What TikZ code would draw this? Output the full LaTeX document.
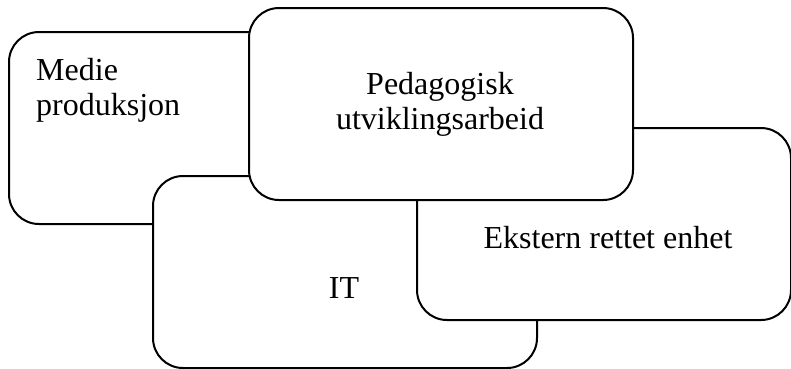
\documentclass[tikz,border=0pt]{standalone}
\usepackage{fontspec}
\setmainfont{Liberation Serif}
\tikzset{
	unitbox/.style={draw=black, line width=2pt, fill=white, rounded corners=30pt,
		minimum width=384pt, minimum height=192pt, anchor=north west, inner sep=0pt},
	unittext/.style={font=\fontsize{32pt}{35pt}\selectfont, inner sep=0pt}
}
\begin{document}
\begin{tikzpicture}[x=1pt,y=-1pt]
			%%%%% START %%%%%
			\useasboundingbox (0,0) rectangle (791,368);
			
			\node[unitbox] (medie) at (8,31) {};
			\node[unitbox] (it) at (152,175) {};
			\node[unitbox, minimum width=374pt] (ekstern) at (416,127) {};
			\node[unitbox] (ped) at (248,7) {};
			
			\node[unittext, anchor=base west, align=left] (medietxt) at (36,115) {Medie\\produksjon};
			\node[unittext, anchor=base] (ittxt) at (344,298) {IT};
			\node[unittext, anchor=base] (eksterntxt) at (608,248) {Ekstern rettet enhet};
			\node[unittext, anchor=base, align=center] (pedtxt) at (440,129) {Pedagogisk\\utviklingsarbeid};
			
			%%%%% END %%%%%
\end{tikzpicture}
\end{document}
